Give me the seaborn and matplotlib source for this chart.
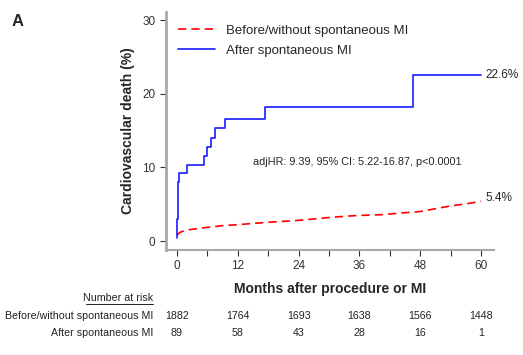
import matplotlib
matplotlib.use("Agg")
import matplotlib.pyplot as plt
import matplotlib.transforms as mtransforms
import seaborn as sns
import pandas as pd

# -------------------------------
# Data
# -------------------------------
after_months = [0, 0.1, 0.2, 0.3, 0.45, 2.0, 5.3, 5.9, 6.8, 7.5, 9.5, 17.4, 46.5, 60]
after_pct = [0.4, 3.0, 6.0, 8.0, 9.2, 10.3, 11.5, 12.8, 14.0, 15.3, 16.6, 18.2, 22.6, 22.6]

before_months = [0, 0.3, 0.6, 2, 4, 6.5, 9, 12.4, 16, 20, 23, 27, 30.8, 35, 40.7, 44, 47.9, 51, 53.8, 57, 60]
before_pct = [0.8, 1.0, 1.2, 1.5, 1.7, 1.9, 2.1, 2.25, 2.45, 2.65, 2.75, 3.0, 3.25, 3.45, 3.6, 3.8, 4.0, 4.4, 4.75, 5.05, 5.4]

risk_months = [0, 12, 24, 36, 48, 60]
risk_before = [1882, 1764, 1693, 1638, 1566, 1448]
risk_after = [89, 58, 43, 28, 16, 1]

label_before = "Before/without spontaneous MI"
label_after = "After spontaneous MI"

# -------------------------------
# Style
# -------------------------------
sns.set_style("ticks")
plt.rcParams["font.family"] = ["Liberation Sans", "DejaVu Sans"]

df_before = pd.DataFrame({"month": before_months, "pct": before_pct})
df_after = pd.DataFrame({"month": after_months, "pct": after_pct})

fig = plt.figure(figsize=(5.23, 3.55), dpi=100)
ax = fig.add_axes([0.317, 0.296, 0.628, 0.67])

sns.lineplot(data=df_before, x="month", y="pct", ax=ax, color="#ff0000",
             linewidth=1.2, linestyle=(0, (5, 3)), label=label_before)
sns.lineplot(data=df_after, x="month", y="pct", ax=ax, color="#1a1aff",
             linewidth=1.2, drawstyle="steps-post", label=label_after)

ax.set_xlim(-2.2, 62.6)
ax.set_ylim(-1.2, 31.1)
ax.set_xticks(risk_months)
ax.set_xticks(range(0, 61, 6), minor=True)
ax.set_yticks([0, 10, 20, 30])
ax.tick_params(axis="both", labelsize=8.5, colors="#333333", length=4, width=0.8)
ax.tick_params(axis="x", which="minor", length=4, width=0.8, color="#333333")
for s in ["top", "right"]:
    ax.spines[s].set_visible(False)
ax.spines["left"].set_color("#a8a8a8")
ax.spines["left"].set_linewidth(2)
ax.spines["bottom"].set_color("#a8a8a8")
ax.spines["bottom"].set_linewidth(1.5)

ax.set_xlabel("Months after procedure or MI", fontsize=10, fontweight="bold", labelpad=7)
ax.set_ylabel("Cardiovascular death (%)", fontsize=10, fontweight="bold", labelpad=5)

leg = ax.legend(loc="upper left", bbox_to_anchor=(0.01, 0.985), frameon=False,
                fontsize=9.5, handlelength=2.8, handletextpad=0.8,
                borderaxespad=0.3, labelspacing=0.55)

ax.text(60.8, after_pct[-1], "22.6%", fontsize=8.5, va="center", ha="left")
ax.text(60.8, before_pct[-1] + 0.5, "5.4%", fontsize=8.5, va="center", ha="left")
ax.text(35.5, 10.8, "adjHR: 9.39, 95% CI: 5.22-16.87, p<0.0001", fontsize=7.8,
        va="center", ha="center")

# -------------------------------
# Number at risk table
# -------------------------------
trans = mtransforms.blended_transform_factory(ax.transData, fig.transFigure)
for m, b, a in zip(risk_months, risk_before, risk_after):
    ax.text(m, 1 - 316 / 355, str(b), transform=trans, fontsize=7.7,
            ha="center", va="center", color="#222222")
    ax.text(m, 1 - 333 / 355, str(a), transform=trans, fontsize=7.7,
            ha="center", va="center", color="#222222")

fig.text(153 / 523, 1 - 298 / 355, "Number at risk", fontsize=7.7, ha="right",
         va="center", color="#222222")
fig.add_artist(plt.Line2D([86 / 523, 153 / 523], [1 - 304 / 355] * 2,
                          color="#222222", linewidth=0.7))
fig.text(153 / 523, 1 - 316 / 355, label_before, fontsize=7.7, ha="right",
         va="center", color="#222222")
fig.text(153 / 523, 1 - 333 / 355, label_after, fontsize=7.7, ha="right",
         va="center", color="#222222")

fig.text(12 / 523, 1 - 21 / 355, "A", fontsize=12, fontweight="bold",
         ha="left", va="center")

fig.savefig("out.png", dpi=100)
